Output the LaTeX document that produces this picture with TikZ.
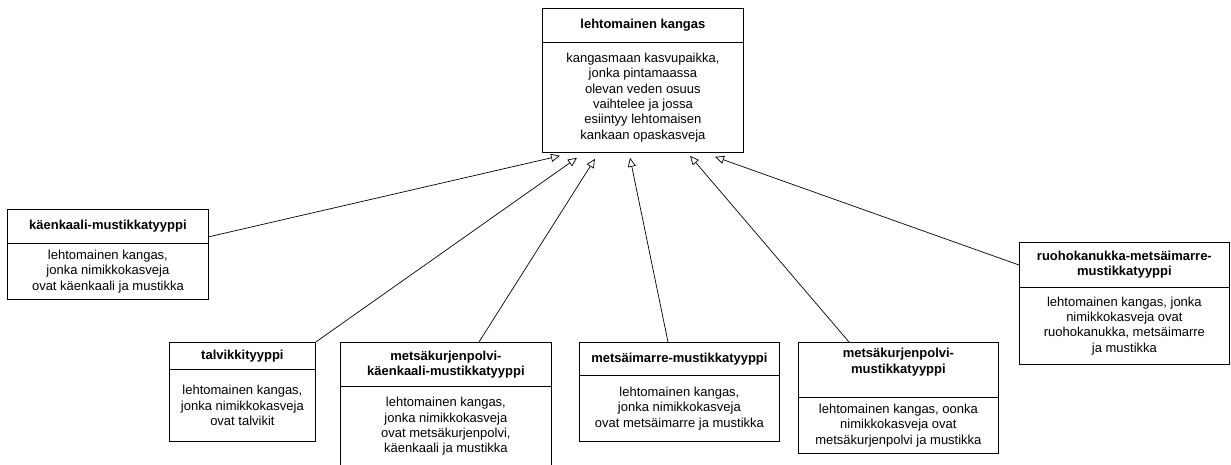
\documentclass[tikz,border=0pt]{standalone}
\usepackage{fontspec}
\setmainfont{Liberation Sans}
\usetikzlibrary{arrows.meta,calc}
\newcommand\dfs{\fontsize{13}{15.4}\selectfont}
\begin{document}
\begin{tikzpicture}[x=1pt,y=-1pt,
  title/.style={draw, line width=0.8pt, anchor=north west, inner sep=0pt, align=center, font=\dfs\bfseries},
  body/.style={draw, line width=0.8pt, anchor=north west, inner sep=0pt, align=center, font=\dfs},
  gen/.style={draw, line width=0.7pt, -{Triangle[open,length=9pt,width=8pt]}}]
\useasboundingbox (0,0) rectangle (1231,464);
% top class
\node[title, minimum width=201pt, minimum height=34pt] (top-t) at (542,8) {lehtomainen kangas};
\node[body, minimum width=201pt, minimum height=110pt] (top-b) at (542,42) {kangasmaan kasvupaikka,\\jonka pintamaassa\\olevan veden osuus\\vaihtelee ja jossa\\esiintyy lehtomaisen\\kankaan opaskasveja};
% kaenkaali
\node[title, minimum width=201pt, minimum height=34pt] (kk-t) at (7,209) {käenkaali-mustikkatyyppi};
\node[body, minimum width=201pt, minimum height=56pt] (kk-b) at (7,243) {lehtomainen kangas,\\jonka nimikkokasveja\\ovat käenkaali ja mustikka};
% talvikki
\node[title, minimum width=146pt, minimum height=27pt] (tv-t) at (169,342) {talvikkityyppi};
\node[body, minimum width=146pt, minimum height=72pt] (tv-b) at (169,369) {lehtomainen kangas,\\jonka nimikkokasveja\\ovat talvikit};
% metsakurjenpolvi-kaenkaali
\node[title, minimum width=211pt, minimum height=44pt] (mkk-t) at (340,342) {metsäkurjenpolvi-\\käenkaali-mustikkatyyppi};
\node[body, minimum width=211pt, minimum height=80pt] (mkk-b) at (340,386) {lehtomainen kangas,\\jonka nimikkokasveja\\ovat metsäkurjenpolvi,\\käenkaali ja mustikka};
% metsaimarre
\node[title, minimum width=200pt, minimum height=33pt] (mi-t) at (579,342) {metsäimarre-mustikkatyyppi};
\node[body, minimum width=200pt, minimum height=66pt] (mi-b) at (579,375) {lehtomainen kangas,\\jonka nimikkokasveja\\ovat metsäimarre ja mustikka};
% metsakurjenpolvi-mustikka
\node[title, minimum width=200pt, minimum height=55pt] (mkm-t) at (798,342) {metsäkurjenpolvi-\\mustikkatyyppi\\[3pt]};
\node[body, minimum width=200pt, minimum height=56pt] (mkm-b) at (798,397) {lehtomainen kangas, oonka\\nimikkokasveja ovat\\metsäkurjenpolvi ja mustikka};
% ruohokanukka
\node[title, minimum width=210pt, minimum height=45pt] (ro-t) at (1019,242) {ruohokanukka-metsäimarre-\\mustikkatyyppi};
\node[body, minimum width=210pt, minimum height=77pt] (ro-b) at (1019,287) {lehtomainen kangas, jonka\\nimikkokasveja ovat\\ruohokanukka, metsäimarre\\ja mustikka};
% arrow end points below the top class
\coordinate (e1) at ($(top-b.south west)+(18,3)$);
\coordinate (e2) at ($(top-b.south west)+(35,5)$);
\coordinate (e3) at ($(top-b.south west)+(53,6)$);
\coordinate (e4) at ($(top-b.south west)+(88,5)$);
\coordinate (e5) at ($(top-b.south west)+(148,3)$);
\coordinate (e6) at ($(top-b.south west)+(173,4)$);
% generalizations
\draw[gen] ($(kk-t.south east)+(0,-7)$) -- (e1);
\draw[gen] (tv-t.north east) -- (e2);
\draw[gen] ($(mkk-t.north west)+(139,0)$) -- (e3);
\draw[gen] ($(mi-t.north west)+(89,0)$) -- (e4);
\draw[gen] ($(mkm-t.north west)+(51,0)$) -- (e5);
\draw[gen] ($(ro-t.north west)+(0,23)$) -- (e6);
\end{tikzpicture}
\end{document}
